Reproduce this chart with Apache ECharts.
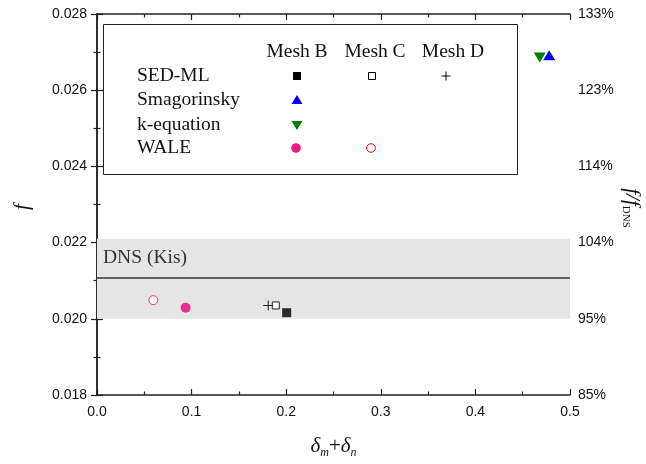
<!DOCTYPE html>
<html>
<head>
<meta charset="utf-8">
<script src="https://cdn.jsdelivr.net/npm/echarts@6/dist/echarts.min.js"></script>
<style>
  html, body { margin: 0; padding: 0; background: #fff; overflow: hidden; }
  #chart { width: 646px; height: 464px; }
</style>
</head>
<body>
<div id="chart"></div>
<script>
// data
const sedMeshB = [[0.2005, 0.02016]];
const sedMeshC = [[0.189, 0.02035]];
const sedMeshD = [[0.181, 0.02035]];
const smagMeshB = [[0.478, 0.02692]];
const kEqMeshB = [[0.468, 0.02686]];
const waleMeshB = [[0.0937, 0.02029]];
const waleMeshC = [[0.0595, 0.02049]];

const fDNS = 0.02107;          // DNS (Kis) reference
const dnsBand = [0.0200, 0.0221];

const xRange = [0, 0.5];
const yRange = [0.018, 0.028];

const serif = '"Liberation Serif", "DejaVu Serif", serif';
const sans = '"Liberation Sans", Arial, sans-serif';

const plusPath = 'path://M4.5,0h1v4.5h4.5v1h-4.5v4.5h-1v-4.5h-4.5v-1h4.5z';
const downTri = 'path://M0,0L10,0L5,8.7z';

const chart = echarts.init(document.getElementById('chart'), null, { renderer: 'canvas', width: 646, height: 464 });

const axisLine = { show: true, lineStyle: { color: '#222', width: 1.5 } };
const tick = { show: true, inside: true, length: 6, lineStyle: { color: '#222', width: 1.2 } };
const minor = { show: true, splitNumber: 2, length: 3.5, lineStyle: { color: '#222', width: 1.2 } };

// legend box drawn as graphic
const lgX = [297, 372, 446];
const lgRows = [76, 100, 125, 148];
const lgFont = '19.5px ' + serif;
const legendGraphic = [
  { type: 'rect', shape: { x: 103.5, y: 24.5, width: 414, height: 150 },
    style: { fill: '#fff', stroke: '#222', lineWidth: 1 }, z: 100 },
  { type: 'text', x: lgX[0], y: 52, z: 101, style: { text: 'Mesh B', font: lgFont, fill: '#111', align: 'center', verticalAlign: 'middle' } },
  { type: 'text', x: lgX[1] + 3, y: 52, z: 101, style: { text: 'Mesh C', font: lgFont, fill: '#111', align: 'center', verticalAlign: 'middle' } },
  { type: 'text', x: lgX[2] + 7, y: 52, z: 101, style: { text: 'Mesh D', font: lgFont, fill: '#111', align: 'center', verticalAlign: 'middle' } },
  { type: 'text', x: 137, y: lgRows[0], z: 101, style: { text: 'SED-ML', font: lgFont, fill: '#111', verticalAlign: 'middle' } },
  { type: 'text', x: 137, y: lgRows[1], z: 101, style: { text: 'Smagorinsky', font: lgFont, fill: '#111', verticalAlign: 'middle' } },
  { type: 'text', x: 137, y: lgRows[2], z: 101, style: { text: 'k-equation', font: lgFont, fill: '#111', verticalAlign: 'middle' } },
  { type: 'text', x: 137, y: lgRows[3], z: 101, style: { text: 'WALE', font: lgFont, fill: '#111', verticalAlign: 'middle' } },
  { type: 'rect', z: 101, shape: { x: lgX[0] - 4, y: lgRows[0] - 4, width: 8, height: 8 }, style: { fill: '#000' } },
  { type: 'rect', z: 101, shape: { x: lgX[1] - 3.5, y: lgRows[0] - 3.5, width: 7, height: 7 }, style: { fill: '#fff', stroke: '#000', lineWidth: 1 } },
  { type: 'line', z: 101, shape: { x1: lgX[2] - 4.5, y1: lgRows[0], x2: lgX[2] + 4.5, y2: lgRows[0] }, style: { stroke: '#000', lineWidth: 1 } },
  { type: 'line', z: 101, shape: { x1: lgX[2], y1: lgRows[0] - 4.5, x2: lgX[2], y2: lgRows[0] + 4.5 }, style: { stroke: '#000', lineWidth: 1 } },
  { type: 'polygon', z: 101, shape: { points: [[lgX[0] - 5.5, lgRows[1] + 4], [lgX[0] + 5.5, lgRows[1] + 4], [lgX[0], lgRows[1] - 5]] }, style: { fill: '#0000ff' } },
  { type: 'polygon', z: 101, shape: { points: [[lgX[0] - 5.5, lgRows[2] - 4], [lgX[0] + 5.5, lgRows[2] - 4], [lgX[0], lgRows[2] + 5]] }, style: { fill: '#008000' } },
  { type: 'circle', z: 101, shape: { cx: lgX[0] - 1, cy: lgRows[3], r: 4.8 }, style: { fill: '#ee1880' } },
  { type: 'circle', z: 101, shape: { cx: lgX[1] - 1, cy: lgRows[3], r: 4.3 }, style: { fill: '#fff', stroke: '#ff0000', lineWidth: 1 } },
  // DNS label above the reference line
  { type: 'text', x: 103, y: 258, z: 50, style: { text: 'DNS (Kis)', font: '19.5px ' + serif, fill: '#333', verticalAlign: 'middle' } },
  // y axis titles
  { type: 'text', x: 22, y: 207, rotation: Math.PI / 2, z: 50,
    style: { text: 'f', font: 'italic 21px ' + serif, fill: '#111', align: 'center', verticalAlign: 'middle' } },
  { type: 'text', x: 632, y: 208, rotation: -Math.PI / 2, z: 50,
    style: {
      text: '{i|f/f}{s|DNS}', align: 'center', verticalAlign: 'middle',
      rich: {
        i: { font: 'italic 21px ' + serif, fill: '#111' },
        s: { font: '11px ' + serif, fill: '#111', padding: [12, 0, 0, 0] }
      }
    } }
];

const option = {
  backgroundColor: '#ffffff',
  animation: false,
  grid: { left: 97, right: 76, top: 14, bottom: 69, containLabel: false, outerBoundsMode: 'none' },
  xAxis: [
    {
      type: 'value', position: 'bottom',
      min: xRange[0], max: xRange[1], interval: 0.1,
      name: '{d|δ}{s|m}{p|+}{d|δ}{s|n}',
      nameLocation: 'middle', nameGap: 38,
      nameTextStyle: {
        rich: {
          d: { fontFamily: serif, fontStyle: 'italic', fontSize: 21, color: '#111' },
          s: { fontFamily: serif, fontStyle: 'italic', fontSize: 12, color: '#111', padding: [14, 0, 0, 0] },
          p: { fontFamily: serif, fontSize: 21, color: '#111' }
        }
      },
      axisLine: axisLine, axisTick: tick, minorTick: minor,
      splitLine: { show: false },
      axisLabel: { fontFamily: sans, fontSize: 14, color: '#111', margin: 10,
        formatter: v => v.toFixed(1) }
    },
    {
      type: 'value', position: 'top',
      min: xRange[0], max: xRange[1], interval: 0.1,
      axisLine: axisLine, axisTick: tick, minorTick: minor,
      splitLine: { show: false }, axisLabel: { show: false }
    }
  ],
  yAxis: [
    {
      type: 'value', position: 'left',
      min: yRange[0], max: yRange[1], interval: 0.002,
      axisLine: axisLine, axisTick: tick, minorTick: minor,
      splitLine: { show: false },
      axisLabel: { fontFamily: sans, fontSize: 14, color: '#111', margin: 10,
        formatter: v => v.toFixed(3) }
    },
    {
      type: 'value', position: 'right',
      min: yRange[0], max: yRange[1], interval: 0.002,
      axisLine: axisLine, axisTick: tick, minorTick: minor,
      splitLine: { show: false },
      axisLabel: { fontFamily: sans, fontSize: 14, color: '#111', margin: 8,
        formatter: v => Math.round(v / fDNS * 100) + '%' }
    }
  ],
  graphic: legendGraphic,
  series: [
    {
      name: 'DNS', type: 'line', z: 2,
      data: [[xRange[0], fDNS], [xRange[1], fDNS]],
      showSymbol: false, silent: true,
      lineStyle: { color: '#333', width: 1.5 },
      markArea: {
        silent: true,
        itemStyle: { color: '#e6e5e6' },
        data: [[{ yAxis: dnsBand[0] }, { yAxis: dnsBand[1] }]]
      }
    },
    { name: 'SED-ML B', type: 'scatter', data: sedMeshB, symbol: 'rect', symbolSize: 9,
      itemStyle: { color: '#2a2a2a', opacity: 1 }, z: 5 },
    { name: 'SED-ML C', type: 'scatter', data: sedMeshC, symbol: 'rect', symbolSize: 7,
      itemStyle: { color: '#fff', borderColor: '#222', borderWidth: 1, opacity: 1 }, z: 5 },
    { name: 'SED-ML D', type: 'scatter', data: sedMeshD, symbol: plusPath, symbolSize: 10,
      itemStyle: { color: '#222', opacity: 1 }, z: 6 },
    { name: 'Smagorinsky B', type: 'scatter', data: smagMeshB, symbol: 'triangle', symbolSize: [12, 10],
      itemStyle: { color: '#0000ff', opacity: 1 }, z: 5 },
    { name: 'k-equation B', type: 'scatter', data: kEqMeshB, symbol: downTri, symbolSize: [12, 10],
      itemStyle: { color: '#008000', opacity: 1 }, z: 4 },
    { name: 'WALE B', type: 'scatter', data: waleMeshB, symbol: 'circle', symbolSize: 10,
      itemStyle: { color: '#e8308a', opacity: 1 }, z: 5 },
    { name: 'WALE C', type: 'scatter', data: waleMeshC, symbol: 'circle', symbolSize: 9,
      itemStyle: { color: '#fff', borderColor: '#f03c3c', borderWidth: 1, opacity: 1 }, z: 5 }
  ]
};

chart.setOption(option);
</script>
</body>
</html>
